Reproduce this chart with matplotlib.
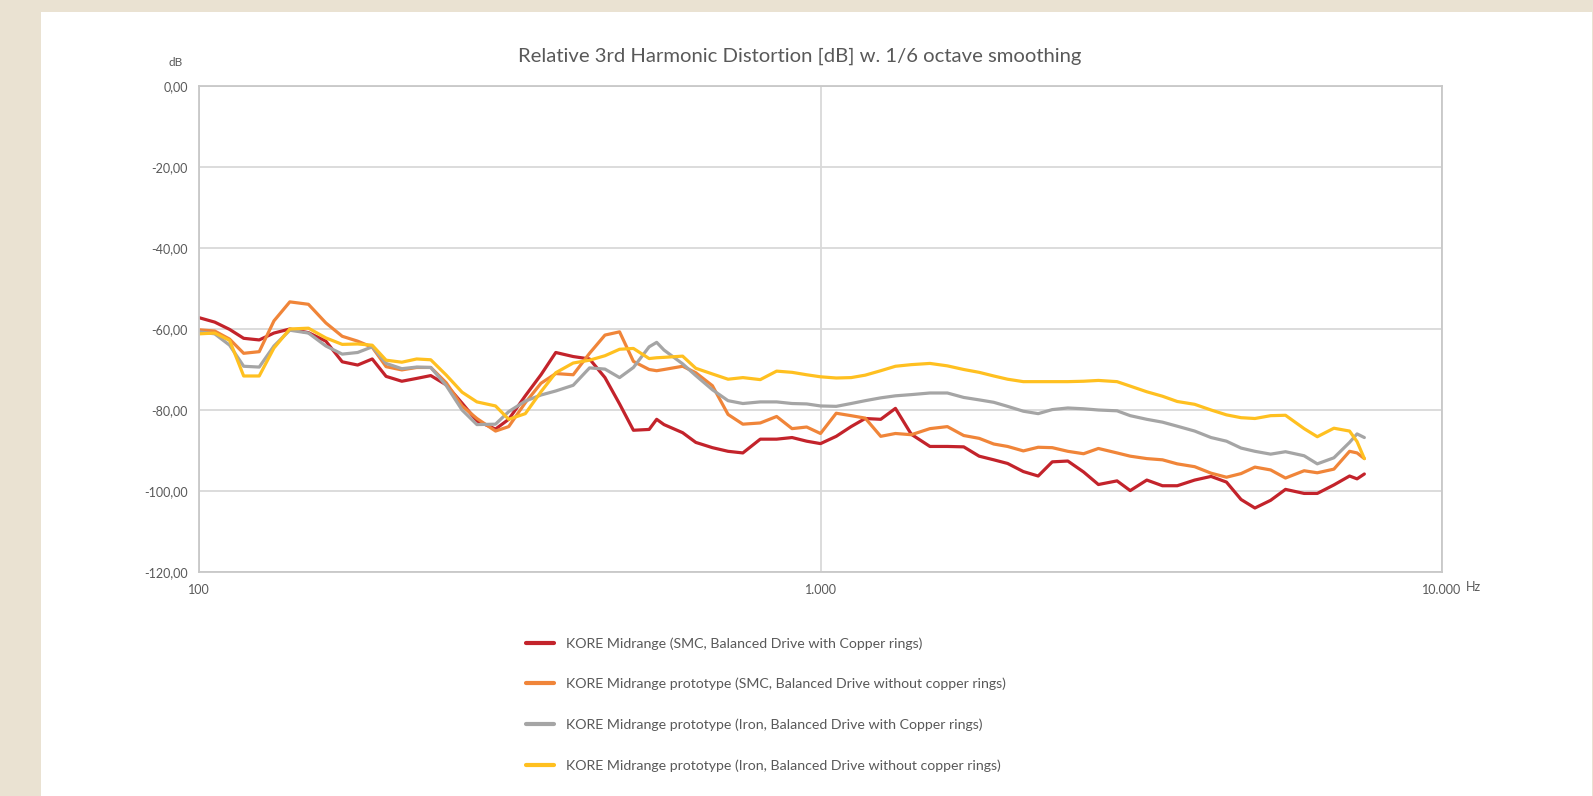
import matplotlib
matplotlib.use("Agg")
import matplotlib.pyplot as plt
from matplotlib.patches import Rectangle
from matplotlib.ticker import FixedLocator, NullLocator

plt.rcParams["font.family"] = ["Lato", "DejaVu Sans"]

# Frequency grid (Hz) shared by all measurements
freq = [100, 106, 112, 118, 125, 132, 140, 150, 160, 170, 180, 190, 200, 212,
        224, 236, 250, 265, 280, 300, 315, 335, 355, 375, 400, 425, 450, 475,
        500, 530, 545, 560, 600, 630, 670, 710, 750, 800, 850, 900, 950, 1000, 1060,
        1120, 1180, 1250, 1320, 1400, 1500, 1600, 1700, 1800, 1900, 2000, 2120,
        2240, 2360, 2500, 2650, 2800, 3000, 3150, 3350, 3550, 3750, 4000, 4250,
        4500, 4750, 5000, 5300, 5600, 6000, 6300, 6700, 7100, 7300, 7500]

# Relative 3rd harmonic distortion, dB
smc_copper = [-57.2, -58.3, -60.1, -62.3, -62.7, -61.0, -60.0, -60.9, -63.0, -68.1,
              -68.9, -67.4, -71.7, -72.9, -72.2, -71.5, -73.8, -78.3, -82.7, -84.7,
              -82.3, -76.5, -71.3, -65.8, -66.8, -67.4, -72.0, -78.5, -85.0, -84.8,
              -82.3, -83.6, -85.6, -88.0, -89.3, -90.2, -90.6, -87.2, -87.2, -86.8, -87.7,
              -88.3, -86.5, -84.1, -82.1, -82.3, -79.6, -86.0, -89.0, -89.0, -89.1,
              -91.4, -92.3, -93.2, -95.2, -96.3, -92.8, -92.6, -95.3, -98.4, -97.5,
              -99.9, -97.3, -98.7, -98.7, -97.3, -96.4, -97.8, -102.1, -104.2, -102.3,
              -99.6, -100.6, -100.6, -98.5, -96.3, -97.0, -95.8]

smc_no_copper = [-60.2, -60.5, -62.5, -66.0, -65.6, -58.0, -53.3, -53.9, -58.5, -61.8,
                 -63.0, -64.5, -69.3, -70.1, -69.5, -69.5, -73.3, -79.0, -82.1, -85.2,
                 -84.1, -78.2, -73.4, -71.0, -71.3, -66.0, -61.5, -60.7, -68.0, -70.0,
                 -70.3, -70.0, -69.2, -70.8, -74.0, -81.1, -83.5, -83.2, -81.6, -84.6, -84.2,
                 -85.8, -80.8, -81.4, -82.0, -86.5, -85.8, -86.1, -84.6, -84.1, -86.3,
                 -87.0, -88.4, -89.0, -90.1, -89.2, -89.3, -90.2, -90.8, -89.5, -90.6,
                 -91.4, -92.0, -92.3, -93.3, -94.0, -95.6, -96.6, -95.7, -94.1, -94.8,
                 -96.8, -95.0, -95.5, -94.6, -90.2, -90.6, -92.0]

iron_copper = [-60.7, -61.2, -64.0, -69.2, -69.4, -64.2, -60.3, -61.0, -64.2, -66.2,
               -65.8, -64.4, -68.5, -69.8, -69.4, -69.5, -74.0, -80.0, -83.6, -83.5,
               -80.4, -77.8, -76.3, -75.3, -73.9, -69.6, -69.9, -72.0, -69.5, -64.4,
               -63.3, -65.2, -68.6, -71.5, -75.0, -77.7, -78.4, -78.0, -78.0, -78.4, -78.5,
               -79.0, -79.1, -78.4, -77.7, -77.0, -76.5, -76.2, -75.8, -75.8, -76.9,
               -77.5, -78.1, -79.1, -80.3, -80.9, -79.9, -79.5, -79.7, -80.0, -80.2,
               -81.4, -82.3, -83.0, -84.0, -85.2, -86.8, -87.7, -89.4, -90.2, -90.9,
               -90.3, -91.3, -93.3, -91.8, -88.0, -85.9, -86.8]

iron_no_copper = [-61.2, -61.0, -62.8, -71.6, -71.6, -64.7, -60.0, -59.8, -62.2, -63.8,
                  -63.7, -64.0, -67.7, -68.2, -67.4, -67.6, -71.4, -75.6, -78.0, -79.0,
                  -82.3, -80.9, -75.5, -70.8, -68.4, -67.7, -66.6, -65.0, -64.8, -67.3,
                  -67.1, -67.0, -66.7, -69.7, -71.1, -72.4, -72.0, -72.5, -70.4, -70.7, -71.3,
                  -71.8, -72.1, -72.0, -71.4, -70.3, -69.2, -68.8, -68.5, -69.1, -70.0,
                  -70.7, -71.6, -72.4, -73.0, -73.0, -73.0, -73.0, -72.9, -72.7, -73.0,
                  -74.1, -75.5, -76.6, -77.9, -78.6, -80.0, -81.2, -81.9, -82.1, -81.4,
                  -81.3, -84.6, -86.6, -84.5, -85.2, -87.8, -92.0]

labels = [
    "KORE Midrange (SMC, Balanced Drive with Copper rings)",
    "KORE Midrange prototype (SMC, Balanced Drive without copper rings)",
    "KORE Midrange prototype (Iron, Balanced Drive with Copper rings)",
    "KORE Midrange prototype (Iron, Balanced Drive without copper rings)",
]
colors = ["#C3232B", "#F08539", "#A5A5A5", "#FFC020"]

y_ticks = [0, -20, -40, -60, -80, -100, -120]
x_ticks = [100, 1000, 10000]
x_tick_labels = ["100", "1.000", "10.000"]

text_color = "#595959"
grid_color = "#D9D9D9"

fig = plt.figure(figsize=(15.93, 7.96), dpi=100)
fig.patch.set_facecolor("#EAE2D2")
# white card behind the chart
fig.patches.append(Rectangle((41 / 1593, 0), (1592 - 41) / 1593, 1 - 12 / 796,
                             transform=fig.transFigure, facecolor="white",
                             edgecolor="none", zorder=-10))

ax = fig.add_axes([199 / 1593, 1 - 572 / 796, (1442 - 199) / 1593, (572 - 86) / 796])
ax.set_facecolor("white")

series = [smc_copper, smc_no_copper, iron_copper, iron_no_copper]
for vals, lab, col in zip(series, labels, colors):
    ax.plot(freq, vals, color=col, linewidth=2.3, label=lab,
            solid_capstyle="round", solid_joinstyle="round")

ax.set_xscale("log")
ax.set_xlim(100, 10000)
ax.set_ylim(-120, 0)
ax.xaxis.set_major_locator(FixedLocator(x_ticks))
ax.xaxis.set_minor_locator(NullLocator())
ax.set_xticklabels(x_tick_labels)
ax.set_yticks(y_ticks)
ax.set_yticklabels([f"{v:.2f}".replace(".", ",") for v in y_ticks])
ax.tick_params(length=0, labelsize=9, colors=text_color, pad=8)
ax.tick_params(axis="x", pad=9)
ax.grid(True, color=grid_color, linewidth=1.3)
ax.set_axisbelow(True)
for sp in ax.spines.values():
    sp.set_color("#C8C8C8")
    sp.set_linewidth(1.3)

ax.annotate("Hz", xy=(1, 0), xycoords="axes fraction", xytext=(24, -9),
            textcoords="offset pixels", ha="left", va="top", fontsize=9,
            color=text_color)
fig.text(183 / 1593, 1 - 63 / 796, "dB", ha="right", va="center", fontsize=8.5,
         color=text_color)

fig.text(800 / 1593, 1 - 56 / 796,
         "Relative 3rd Harmonic Distortion [dB] w. 1/6 octave smoothing",
         ha="center", va="center", fontsize=14.6, color=text_color)

leg = fig.legend(loc="upper left", bbox_to_anchor=(526 / 1593, 1 - 637 / 796),
                 frameon=False, fontsize=10.2, handlelength=2.0,
                 handletextpad=0.85, labelspacing=2.0, borderpad=0,
                 borderaxespad=0)
for t in leg.get_texts():
    t.set_color(text_color)
for h in leg.get_lines():
    h.set_linewidth(3)

fig.savefig("out.png", dpi=100, facecolor=fig.get_facecolor())
